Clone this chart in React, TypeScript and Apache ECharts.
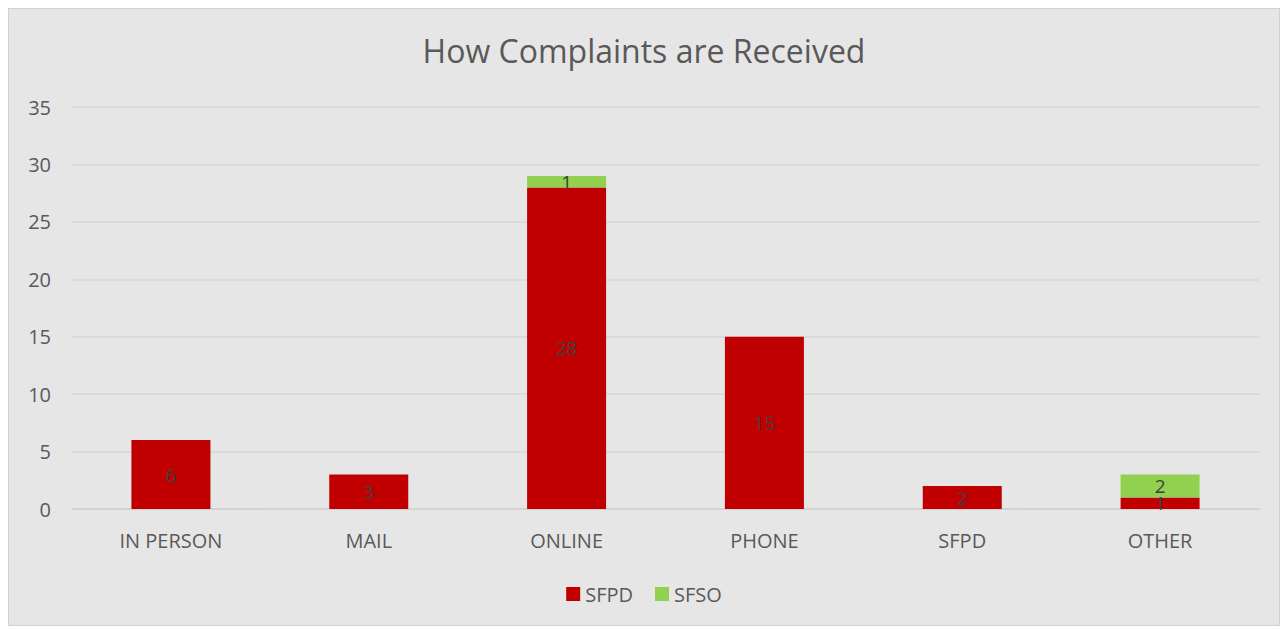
import React, { useEffect, useRef } from "react";
import * as echarts from "echarts";

const categories = ["IN PERSON", "MAIL", "ONLINE", "PHONE", "SFPD", "OTHER"];
const sfpdValues = [6, 3, 28, 15, 2, 1];
const sfsoValues = [0, 0, 1, 0, 0, 2];
const yTicks = { min: 0, max: 35, interval: 5 };

export default function App() {
  const ref = useRef<HTMLDivElement>(null);
  useEffect(() => {
    if (!ref.current) return;
    const chart = echarts.init(ref.current, undefined, { renderer: "svg" });
    const font = "'Open Sans', 'Noto Sans', sans-serif";
    const labelCfg = {
      show: true,
      position: "inside",
      color: "#404040",
      fontSize: 19,
      fontFamily: font,
      formatter: (p: any) => (p.value ? String(p.value) : ""),
    };
    chart.setOption({
      animation: false,
      backgroundColor: "#e7e6e6",
      title: {
        text: "How Complaints are Received",
        left: "center",
        top: 20,
        textStyle: { color: "#595959", fontSize: 32, fontWeight: "normal", fontFamily: font },
      },
      legend: {
        bottom: 16,
        left: "center",
        itemWidth: 14,
        itemHeight: 14,
        itemGap: 22,
        itemTextGap: 6,
        icon: "rect",
        textStyle: { color: "#595959", fontSize: 20, fontFamily: font },
        data: ["SFPD", "SFSO"],
      },
      grid: { left: 63, right: 20, top: 98, bottom: 116 },
      xAxis: {
        type: "category",
        data: categories,
        axisLine: { lineStyle: { color: "#d0d0d0", width: 1.5 } },
        axisTick: { show: false },
        axisLabel: { color: "#595959", fontSize: 20, fontFamily: font, margin: 21 },
      },
      yAxis: {
        type: "value",
        min: yTicks.min,
        max: yTicks.max,
        interval: yTicks.interval,
        axisLine: { show: false },
        axisTick: { show: false },
        splitLine: { lineStyle: { color: "#d6d6d6", width: 1.5 } },
        axisLabel: { color: "#595959", fontSize: 20, fontFamily: font, margin: 21 },
      },
      series: [
        {
          name: "SFPD",
          type: "bar",
          stack: "total",
          data: sfpdValues,
          barWidth: 79,
          itemStyle: { color: "#c00000" },
          label: labelCfg,
        },
        {
          name: "SFSO",
          type: "bar",
          stack: "total",
          data: sfsoValues,
          barWidth: 79,
          itemStyle: { color: "#92d050" },
          label: labelCfg,
        },
      ],
    });
    return () => chart.dispose();
  }, []);
  return (
    <div
      ref={ref}
      style={{
        position: "fixed",
        left: 8,
        top: 8,
        width: 1272,
        height: 618,
        border: "1px solid #d0d0d0",
        boxSizing: "border-box",
      }}
    />
  );
}
